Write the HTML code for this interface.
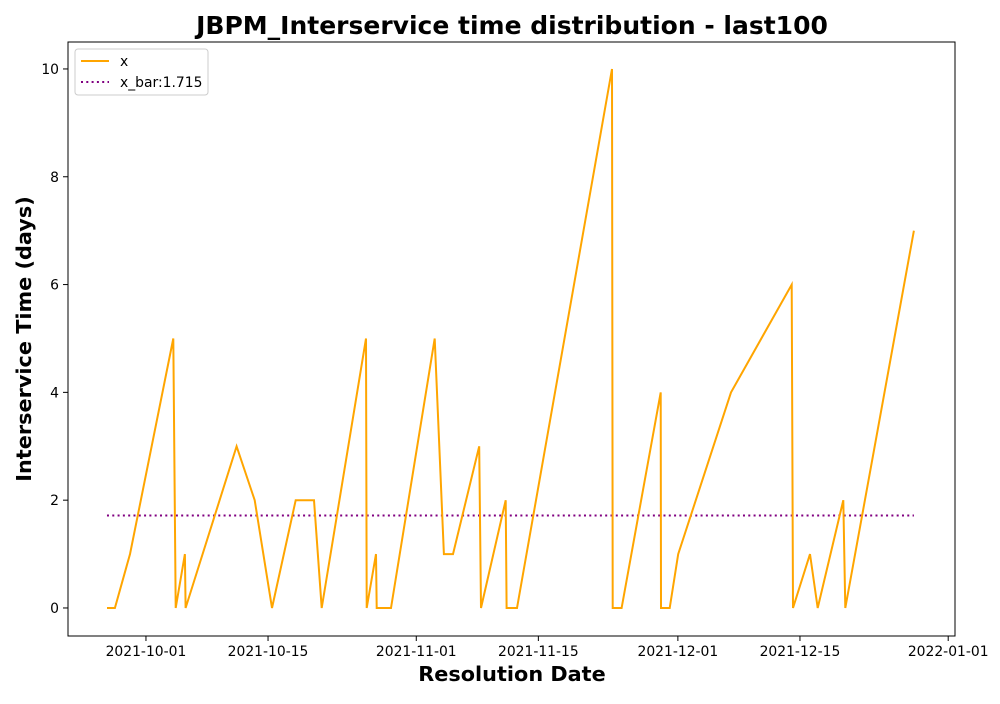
<!DOCTYPE html>
<html><head><meta charset="utf-8"><style>
body{margin:0;background:#fff;font-family:"DejaVu Sans","Liberation Sans",sans-serif}
svg text{font-family:"DejaVu Sans","Liberation Sans",sans-serif}
</style></head><body>
<svg id="chart" width="1000" height="700" xmlns="http://www.w3.org/2000/svg"></svg>
<script>
// days since 2021-10-01
const days=[-4.47,-3.56,-1.83,3.13,3.41,4.47,4.55,10.40,12.47,14.45,17.17,19.27,20.15,25.23,25.31,26.38,26.46,28.10,33.11,34.17,35.21,38.22,38.42,41.25,41.36,42.55,53.44,53.52,54.55,59.03,59.06,60.06,61.04,67.09,74.05,74.20,76.15,77.03,79.97,80.20,88.07];
const values=[0,0,1,5,0,1,0,3,2,0,2,2,0,5,0,1,0,0,5,1,1,3,0,2,0,0,10,0,0,4,0,0,1,4,6,0,1,0,2,0,7];
const xbar=1.715;
const xTickDays=[0,14,31,45,61,75,92];
const xTickLabels=["2021-10-01","2021-10-15","2021-11-01","2021-11-15","2021-12-01","2021-12-15","2022-01-01"];
const yTicks=[0,2,4,6,8,10];

const L=68,R=955,T=42,B=636;
const xMin=-8.94,xMax=92.78,yMin=-0.52,yMax=10.5;
const sx=d=>L+(d-xMin)/(xMax-xMin)*(R-L);
const sy=v=>B-(v-yMin)/(yMax-yMin)*(B-T);
const svg=document.getElementById('chart');
const NS='http://www.w3.org/2000/svg';
function mk(tag,attrs,parent){const e=document.createElementNS(NS,tag);for(const k in attrs)e.setAttribute(k,attrs[k]);(parent||svg).appendChild(e);return e;}

let t=mk('text',{x:512,y:34,'text-anchor':'middle','font-size':'25','font-weight':'bold'});t.textContent='JBPM_Interservice time distribution - last100';



xTickDays.forEach((d,i)=>{
  const x=sx(d);
  const l=mk('line',{x1:x,x2:x,y1:B,y2:B+5,stroke:'#000','stroke-width':1});
  
  
  const tx=mk('text',{x:x,y:B+20,'text-anchor':'middle','font-size':'13.9'});tx.textContent=xTickLabels[i];
  
  
});
yTicks.forEach(v=>{
  const y=sy(v);
  const l=mk('line',{x1:L-5,x2:L,y1:y,y2:y,stroke:'#000','stroke-width':1});
  
  
  const tx=mk('text',{x:L-9,y:y+5,'text-anchor':'end','font-size':'13.9'});tx.textContent=v;
  
  
});
let xl=mk('text',{x:512,y:681,'text-anchor':'middle','font-size':'20.8','font-weight':'bold'});xl.textContent='Resolution Date';


let yl=mk('text',{x:31,y:339,'text-anchor':'middle','font-size':'20.8','font-weight':'bold',transform:'rotate(-90 31 339)'});yl.textContent='Interservice Time (days)';



const mean=mk('line',{x1:sx(days[0]),x2:sx(days[days.length-1]),y1:sy(xbar),y2:sy(xbar),stroke:'#800080','stroke-width':2,'stroke-dasharray':'2,3.3'});


const pts=days.map((d,i)=>sx(d).toFixed(1)+','+sy(values[i]).toFixed(1)).join(' ');
const pl=mk('polyline',{points:pts,fill:'none',stroke:'#FFA500','stroke-width':2,'stroke-linejoin':'miter'});



const frame=mk('rect',{x:L,y:T,width:R-L,height:B-T,fill:'none',stroke:'#000','stroke-width':1});



const lg=mk('g',{});


mk('rect',{x:75,y:49,width:133,height:46,rx:3,fill:'#fff',stroke:'#ccc','stroke-width':1},lg);
mk('line',{x1:81,x2:109,y1:61,y2:61,stroke:'#FFA500','stroke-width':2},lg);
let a=mk('text',{x:120,y:66,'font-size':'13.9'},lg);a.textContent='x';
mk('line',{x1:81,x2:109,y1:82,y2:82,stroke:'#800080','stroke-width':2,'stroke-dasharray':'2,3.3'},lg);
let b=mk('text',{x:120,y:87,'font-size':'13.9'},lg);b.textContent='x_bar:1.715';
</script>
</body></html>
